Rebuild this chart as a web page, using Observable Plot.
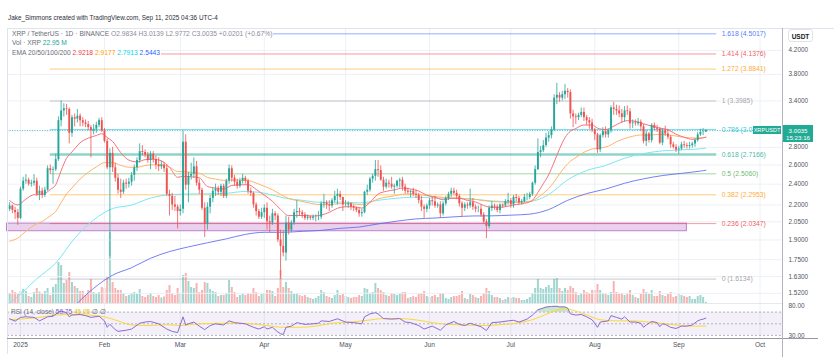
<!DOCTYPE html>
<html><head><meta charset="utf-8">
<script src="https://cdn.jsdelivr.net/npm/d3@7"></script>
<script src="https://cdn.jsdelivr.net/npm/@observablehq/plot@0.6"></script>
<style>
html,body{margin:0;padding:0;background:#fff;}
#wrap{position:relative;width:834px;height:357px;overflow:hidden;font-family:"Liberation Sans",Arial,sans-serif;color:#131722;}
#wrap svg{position:absolute;left:0;}
.t{position:absolute;white-space:nowrap;line-height:1;}
.ln{position:absolute;}
</style></head><body><div id="wrap"></div>
<script>
// ---------- DATA ----------
const firstDate = "2024-12-28";
const firstOpen = 2.16;
// daily closes Dec 28 2024 .. Sep 11 2025
const closes = [
2.19,2.15,2.13,2.08,
2.35,2.43,2.44,2.40,2.41,2.43,2.30,2.33,2.29,2.34,
2.56,2.54,2.55,2.66,3.13,3.26,3.29,3.28,2.97,3.17,
3.15,3.19,3.13,3.10,3.08,3.04,3.00,3.02,3.07,3.13,3.00,
2.87,2.57,2.73,2.57,2.46,2.34,2.32,2.41,2.40,2.42,
2.49,2.57,2.65,2.75,2.74,2.71,2.65,2.72,2.66,2.60,
2.58,2.60,2.56,2.30,2.28,2.20,2.18,2.14,
2.16,2.86,2.39,2.48,2.50,2.58,2.41,2.34,2.17,2.03,
2.18,2.26,2.33,2.35,2.32,2.38,2.28,2.43,2.56,2.46,
2.42,2.38,2.43,2.46,2.43,2.33,2.31,2.20,2.14,2.09,2.13,
2.17,2.05,2.04,2.12,2.10,1.90,1.85,1.80,2.04,1.98,
2.04,2.13,2.14,2.13,2.11,2.08,2.09,2.08,2.09,2.09,
2.09,2.21,2.22,2.20,2.19,2.24,2.28,2.30,2.27,2.20,
2.20,2.21,2.18,2.17,2.15,2.12,2.13,2.32,2.34,2.45,
2.48,2.55,2.54,2.44,2.37,2.41,2.40,2.37,2.38,2.43,
2.44,2.37,2.33,2.32,2.33,2.30,2.29,2.24,2.18,2.16,2.19,
2.24,2.23,2.19,2.20,2.12,2.21,2.26,2.30,2.33,2.31,
2.28,2.21,2.17,2.20,2.19,2.22,2.18,2.16,2.16,2.11,
2.05,2.01,2.17,2.19,2.18,2.15,2.20,2.19,2.23,2.24,
2.20,2.27,2.26,2.22,2.23,2.27,2.27,2.30,2.41,2.55,
2.74,2.76,2.82,2.91,2.94,3.01,3.44,3.48,3.44,3.49,
3.54,3.52,3.22,3.18,3.17,3.20,3.24,3.17,3.13,3.10,3.01,
2.95,2.77,2.94,2.99,2.95,3.00,3.30,3.28,3.26,3.22,
3.17,3.26,3.25,3.09,3.10,3.09,3.11,3.05,2.87,2.96,
2.88,3.07,3.03,3.02,2.85,3.00,2.96,2.92,2.83,2.80,2.77,
2.78,2.83,2.82,2.81,2.82,2.84,2.88,2.95,2.98,2.9834,3.0035];
const highs = [
2.22,2.20,2.18,2.16,
2.37,2.47,2.50,2.46,2.44,2.50,2.46,2.38,2.36,2.37,
2.59,2.60,2.58,2.72,3.18,3.40,3.36,3.35,3.30,3.20,
3.22,3.28,3.22,3.17,3.14,3.12,3.07,3.08,3.11,3.16,3.17,
3.03,2.90,2.78,2.80,2.62,2.50,2.45,2.44,2.45,2.46,
2.52,2.60,2.68,2.84,2.82,2.77,2.74,2.75,2.75,2.70,
2.68,2.64,2.63,2.60,2.34,2.31,2.28,2.20,
2.20,3.00,2.95,2.52,2.62,2.68,2.64,2.45,2.36,2.22,
2.22,2.29,2.36,2.40,2.38,2.40,2.40,2.45,2.60,2.59,
2.49,2.45,2.46,2.50,2.48,2.45,2.36,2.32,2.22,2.16,2.17,
2.20,2.22,2.10,2.16,2.14,2.12,1.98,1.97,2.10,2.09,
2.06,2.16,2.24,2.17,2.15,2.13,2.11,2.10,2.11,2.11,
2.14,2.23,2.30,2.24,2.24,2.26,2.33,2.35,2.33,2.27,
2.24,2.23,2.22,2.20,2.18,2.17,2.16,2.33,2.39,2.47,
2.50,2.65,2.65,2.59,2.47,2.45,2.44,2.47,2.40,2.44,
2.46,2.47,2.40,2.36,2.34,2.36,2.34,2.31,2.28,2.20,2.21,
2.26,2.27,2.28,2.22,2.23,2.23,2.28,2.32,2.36,2.36,
2.34,2.30,2.23,2.22,2.22,2.35,2.26,2.20,2.19,2.20,
2.13,2.07,2.19,2.23,2.21,2.20,2.21,2.21,2.25,2.31,
2.26,2.29,2.30,2.28,2.25,2.30,2.31,2.32,2.42,2.59,
2.90,2.81,2.88,2.97,2.99,3.05,3.49,3.66,3.52,3.54,
3.64,3.58,3.56,3.27,3.22,3.23,3.30,3.30,3.20,3.17,3.15,
3.03,2.97,2.96,3.04,3.05,3.02,3.33,3.38,3.34,3.33,
3.28,3.32,3.33,3.29,3.14,3.14,3.16,3.14,3.08,3.00,
2.98,3.09,3.10,3.07,3.04,3.02,3.06,3.02,2.94,2.86,2.83,
2.81,2.86,2.87,2.85,2.86,2.86,2.90,2.98,3.02,3.03,3.0139];
const lows = [
2.14,2.12,2.07,2.02,
2.07,2.33,2.40,2.38,2.37,2.38,2.28,2.24,2.26,2.27,
2.33,2.50,2.40,2.53,2.64,3.05,3.18,3.20,2.84,2.92,
3.05,3.10,3.05,3.05,3.04,3.00,2.68,2.95,2.97,3.04,2.98,
2.85,2.55,1.77,2.52,2.42,2.30,2.26,2.30,2.35,2.36,
2.38,2.43,2.53,2.62,2.70,2.68,2.62,2.55,2.62,2.55,
2.53,2.55,2.52,2.28,2.10,2.15,2.14,1.99,
2.10,2.12,2.34,2.22,2.44,2.46,2.38,2.30,2.15,1.92,
1.98,2.12,2.22,2.28,2.29,2.28,2.26,2.26,2.40,2.42,
2.38,2.35,2.36,2.40,2.40,2.30,2.28,2.17,2.10,2.07,2.07,
2.08,1.98,1.96,2.02,2.06,1.88,1.6134,1.77,1.74,1.94,
1.96,2.02,2.08,2.10,2.08,2.06,2.06,2.06,2.06,2.05,
2.06,2.07,2.17,2.16,2.14,2.17,2.22,2.20,2.24,2.14,
2.18,2.17,2.15,2.14,2.13,2.09,2.09,2.12,2.29,2.32,
2.41,2.43,2.47,2.43,2.33,2.35,2.36,2.35,2.30,2.36,
2.36,2.33,2.30,2.30,2.27,2.28,2.26,2.21,2.14,2.08,2.13,
2.16,2.19,2.17,2.17,2.08,2.10,2.19,2.24,2.27,2.29,
2.25,2.18,2.09,2.14,2.16,2.17,2.15,2.13,2.13,2.09,
2.03,1.91,1.99,2.14,2.15,2.13,2.12,2.17,2.18,2.20,
2.17,2.17,2.23,2.20,2.20,2.22,2.24,2.25,2.28,2.39,
2.54,2.68,2.74,2.80,2.86,2.90,2.99,3.35,3.38,3.40,
3.42,3.44,3.15,3.04,3.08,3.13,3.17,3.12,3.07,3.02,2.98,
2.88,2.73,2.74,2.91,2.91,2.91,2.97,3.20,3.20,3.17,
3.10,3.11,3.20,3.02,3.03,3.06,3.06,2.99,2.84,2.81,
2.85,2.85,3.00,2.98,2.83,2.82,2.93,2.89,2.79,2.78,2.74,
2.72,2.76,2.79,2.78,2.78,2.79,2.80,2.86,2.93,2.94,2.9772];
// daily volume, millions of XRP
const volumes = [
200,260,220,180,
240,280,240,140,120,220,300,230,180,240,
300,160,320,380,820,760,400,460,620,420,
340,300,240,240,160,260,480,220,180,220,320,
300,520,1420,420,300,260,260,200,140,160,
200,220,180,280,140,120,160,200,140,120,
160,110,130,260,360,200,160,300,
200,560,600,440,320,300,400,220,260,420,
400,280,240,220,140,160,160,200,460,320,
220,120,160,200,160,200,180,300,220,140,180,
200,260,260,240,140,300,660,320,420,300,
240,180,200,160,140,160,120,100,80,100,
140,260,220,140,120,100,160,260,160,180,
140,120,100,120,120,160,140,300,280,200,
220,400,300,260,220,160,140,200,180,160,
200,220,220,100,120,140,120,180,200,240,140,
120,140,160,120,200,200,100,80,120,140,
140,160,240,100,80,180,160,120,100,140,
200,300,240,160,120,120,100,60,80,120,
100,120,100,100,60,60,80,120,200,300,
480,300,280,320,360,300,480,500,300,240,
300,260,340,300,220,160,200,260,220,200,260,
260,380,260,200,180,160,220,440,220,180,
200,160,180,260,160,120,100,180,280,220,
180,260,140,140,240,160,140,180,220,120,140,
180,160,140,120,140,80,80,140,160,120,23];

const ema20Dates = ["2024-12-28","2024-12-31","2025-01-03","2025-01-06","2025-01-09","2025-01-12","2025-01-14","2025-01-16","2025-01-18","2025-01-20","2025-01-23","2025-01-26","2025-01-29","2025-01-31","2025-02-02","2025-02-04","2025-02-07","2025-02-10","2025-02-13","2025-02-16","2025-02-19","2025-02-22","2025-02-25","2025-02-28","2025-03-02","2025-03-05","2025-03-08","2025-03-11","2025-03-14","2025-03-17","2025-03-20","2025-03-23","2025-03-26","2025-03-29","2025-04-01","2025-04-04","2025-04-07","2025-04-10","2025-04-13","2025-04-16","2025-04-19","2025-04-22","2025-04-25","2025-04-28","2025-05-01","2025-05-04","2025-05-07","2025-05-10","2025-05-13","2025-05-16","2025-05-19","2025-05-22","2025-05-25","2025-05-28","2025-05-31","2025-06-03","2025-06-06","2025-06-09","2025-06-12","2025-06-15","2025-06-18","2025-06-21","2025-06-24","2025-06-27","2025-06-30","2025-07-03","2025-07-06","2025-07-09","2025-07-11","2025-07-13","2025-07-15","2025-07-17","2025-07-19","2025-07-21","2025-07-23","2025-07-25","2025-07-28","2025-07-31","2025-08-02","2025-08-05","2025-08-07","2025-08-10","2025-08-13","2025-08-16","2025-08-19","2025-08-22","2025-08-25","2025-08-28","2025-08-31","2025-09-03","2025-09-06","2025-09-09","2025-09-11"];
const ema20 = [2.24,2.20,2.255,2.296,2.298,2.347,2.394,2.540,2.675,2.747,2.853,2.910,2.942,2.964,2.918,2.869,2.739,2.654,2.634,2.659,2.664,2.646,2.575,2.470,2.480,2.475,2.465,2.377,2.362,2.352,2.387,2.393,2.395,2.347,2.292,2.235,2.159,2.104,2.105,2.105,2.100,2.109,2.133,2.170,2.183,2.184,2.171,2.224,2.302,2.329,2.343,2.361,2.352,2.332,2.292,2.273,2.248,2.261,2.262,2.242,2.227,2.195,2.178,2.178,2.189,2.204,2.214,2.244,2.318,2.404,2.498,2.632,2.782,2.915,2.996,3.029,3.074,3.074,3.034,3.015,3.041,3.096,3.131,3.121,3.090,3.060,3.034,3.014,2.958,2.920,2.895,2.907,2.922];

const ema50Dates = ["2024-12-28","2024-12-31","2025-01-03","2025-01-06","2025-01-09","2025-01-12","2025-01-14","2025-01-16","2025-01-18","2025-01-20","2025-01-23","2025-01-26","2025-01-29","2025-02-01","2025-02-04","2025-02-07","2025-02-10","2025-02-13","2025-02-16","2025-02-19","2025-02-22","2025-02-25","2025-02-28","2025-03-02","2025-03-05","2025-03-08","2025-03-11","2025-03-14","2025-03-17","2025-03-20","2025-03-23","2025-03-26","2025-03-29","2025-04-01","2025-04-04","2025-04-07","2025-04-10","2025-04-13","2025-04-16","2025-04-19","2025-04-22","2025-04-25","2025-04-28","2025-05-01","2025-05-04","2025-05-07","2025-05-10","2025-05-13","2025-05-16","2025-05-19","2025-05-22","2025-05-25","2025-05-28","2025-05-31","2025-06-03","2025-06-06","2025-06-09","2025-06-12","2025-06-15","2025-06-18","2025-06-21","2025-06-24","2025-06-27","2025-06-30","2025-07-03","2025-07-06","2025-07-09","2025-07-11","2025-07-13","2025-07-15","2025-07-17","2025-07-19","2025-07-21","2025-07-23","2025-07-25","2025-07-28","2025-07-31","2025-08-03","2025-08-06","2025-08-09","2025-08-12","2025-08-15","2025-08-18","2025-08-21","2025-08-24","2025-08-27","2025-08-30","2025-09-02","2025-09-05","2025-09-08","2025-09-11"];
const ema50 = [1.89,1.916,1.971,2.021,2.053,2.102,2.141,2.222,2.303,2.362,2.452,2.522,2.579,2.626,2.626,2.597,2.576,2.576,2.594,2.603,2.602,2.577,2.531,2.530,2.522,2.513,2.469,2.452,2.438,2.443,2.440,2.436,2.411,2.379,2.344,2.300,2.259,2.242,2.227,2.211,2.202,2.202,2.211,2.212,2.209,2.203,2.222,2.256,2.273,2.286,2.300,2.303,2.300,2.286,2.278,2.270,2.267,2.264,2.258,2.252,2.240,2.232,2.228,2.224,2.223,2.225,2.238,2.269,2.309,2.357,2.424,2.503,2.581,2.642,2.683,2.742,2.780,2.792,2.813,2.866,2.905,2.932,2.949,2.944,2.955,2.953,2.941,2.925,2.913,2.911,2.918];

const ema100Dates = ["2024-12-28","2024-12-31","2025-01-07","2025-01-14","2025-01-21","2025-01-28","2025-02-04","2025-02-11","2025-02-18","2025-02-25","2025-03-04","2025-03-11","2025-03-18","2025-03-25","2025-04-01","2025-04-08","2025-04-15","2025-04-22","2025-04-29","2025-05-06","2025-05-13","2025-05-20","2025-05-27","2025-06-03","2025-06-10","2025-06-17","2025-06-24","2025-07-01","2025-07-08","2025-07-15","2025-07-22","2025-07-29","2025-08-05","2025-08-12","2025-08-19","2025-08-26","2025-09-02","2025-09-09","2025-09-11"];
const ema100 = [1.46,1.499,1.615,1.725,1.914,2.066,2.167,2.199,2.264,2.296,2.303,2.305,2.310,2.328,2.311,2.267,2.243,2.224,2.226,2.219,2.243,2.263,2.273,2.264,2.260,2.254,2.237,2.232,2.234,2.298,2.444,2.541,2.595,2.675,2.728,2.759,2.770,2.783,2.791];

const ema200Dates = ema100Dates;
const ema200 = [1.12,1.15,1.235,1.317,1.442,1.552,1.640,1.692,1.760,1.810,1.846,1.878,1.909,1.945,1.962,1.962,1.970,1.978,1.995,2.006,2.032,2.056,2.075,2.083,2.093,2.101,2.102,2.108,2.117,2.158,2.243,2.307,2.351,2.409,2.454,2.488,2.511,2.535,2.544];

const rsiDates = ["2024-12-28","2024-12-30","2025-01-01","2025-01-03","2025-01-06","2025-01-08","2025-01-11","2025-01-13","2025-01-15","2025-01-16","2025-01-18","2025-01-19","2025-01-20","2025-01-23","2025-01-25","2025-01-27","2025-01-30","2025-02-01","2025-02-02","2025-02-03","2025-02-05","2025-02-06","2025-02-09","2025-02-11","2025-02-14","2025-02-16","2025-02-18","2025-02-21","2025-02-24","2025-02-26","2025-02-28","2025-03-02","2025-03-03","2025-03-04","2025-03-06","2025-03-08","2025-03-10","2025-03-12","2025-03-14","2025-03-17","2025-03-19","2025-03-21","2025-03-23","2025-03-25","2025-03-28","2025-03-30","2025-04-01","2025-04-02","2025-04-04","2025-04-06","2025-04-07","2025-04-08","2025-04-09","2025-04-11","2025-04-13","2025-04-16","2025-04-19","2025-04-21","2025-04-22","2025-04-25","2025-04-28","2025-05-01","2025-05-04","2025-05-07","2025-05-08","2025-05-10","2025-05-12","2025-05-13","2025-05-15","2025-05-18","2025-05-21","2025-05-23","2025-05-25","2025-05-28","2025-05-30","2025-06-02","2025-06-05","2025-06-07","2025-06-10","2025-06-12","2025-06-14","2025-06-16","2025-06-18","2025-06-20","2025-06-22","2025-06-24","2025-06-27","2025-06-30","2025-07-02","2025-07-04","2025-07-07","2025-07-09","2025-07-11","2025-07-13","2025-07-14","2025-07-16","2025-07-18","2025-07-19","2025-07-21","2025-07-22","2025-07-23","2025-07-25","2025-07-27","2025-07-29","2025-07-31","2025-08-02","2025-08-03","2025-08-06","2025-08-07","2025-08-09","2025-08-11","2025-08-12","2025-08-14","2025-08-16","2025-08-18","2025-08-19","2025-08-20","2025-08-22","2025-08-24","2025-08-25","2025-08-26","2025-08-27","2025-08-29","2025-08-31","2025-09-02","2025-09-04","2025-09-06","2025-09-08","2025-09-09","2025-09-10","2025-09-11"];
const rsiValues = [58.6,54.5,61,62,61,55,62,63,70,72,69,62,65,66,64,61,63,55,44,49,40,37,39,41,51,53,54,50,41,37,35,62,48,50,53,46,40,47,50,48,55,52,51,50,44,41,45,41,44,36,33,31.6,44,46,52,49,50,51,55,54,58.6,53,52,50,62,67,69,67,59,58,59,53,52,47,41,46,39,48,54,49,47,51,48,45,38.5,52,53,55,56,53,58,65,74,77,78.6,79.8,80,79,79,77,67,65,66,62,57,44,53,55,64,61,58,62,53,53,51,44,48,54,52,45,50,49,44,42,46,46,48,55,57,58,59.75];

const rsiMaDates = ["2024-12-28","2025-01-06","2025-01-18","2025-01-28","2025-02-01","2025-02-06","2025-02-11","2025-02-17","2025-02-24","2025-03-01","2025-03-08","2025-03-20","2025-03-27","2025-04-02","2025-04-08","2025-04-14","2025-04-20","2025-04-26","2025-05-03","2025-05-09","2025-05-15","2025-05-21","2025-05-28","2025-06-02","2025-06-08","2025-06-14","2025-06-22","2025-06-27","2025-07-03","2025-07-09","2025-07-15","2025-07-21","2025-07-28","2025-08-03","2025-08-09","2025-08-15","2025-08-21","2025-08-27","2025-09-02","2025-09-06","2025-09-11"];
const rsiMaValues = [57,60,66,64.3,62,55,48,47,48.5,47,50,51,50,47,44,44,46,51,53,56,59,59,56,52,49,48,47,48.5,51,57,68,75.7,67,57,55,55,53,50,47,46,46.05];

const fibLevels = ["0","0.236","0.382","0.5","0.618","0.786","1","1.272","1.414","1.618"];
const fibPrices = [1.6134,2.0347,2.2953,2.5060,2.7166,3.0165,3.3985,3.8841,4.1376,4.5017];
// the 0.786 label is cut off by the symbol tag in the reference: only "(3.0" shows
const fibShown = ["1.6134","2.0347","2.2953","2.5060","2.7166","3.0","3.3985","3.8841","4.1376","4.5017"];
const fibColors = ["#8f929b","#f23645","#ff9800","#4caf50","#22ab94","#00bcd4","#8f929b","#ff9800","#f23645","#2962ff"];
const fibWidths = [1,1,1,1,2.4,1,1,1,1,1];
const fibFrom = "2025-01-12", fibTo = "2025-09-15";
const zoneFrom = "2024-12-27", zoneTo = "2025-09-04", zoneTop = 2.0347, zoneBottom = 1.971;

const priceTicks = [4.2,3.8,3.4,2.8,2.6,2.4,2.2,2.05,1.9,1.75,1.63,1.52];
const gridPrices = [4.2,3.8,3.4,3.0,2.8,2.6,2.4,2.2,2.05,1.9,1.75,1.63,1.52];
const monthDates = ["2025-01-01","2025-02-01","2025-03-01","2025-04-01","2025-05-01","2025-06-01","2025-07-01","2025-08-01","2025-09-01","2025-10-01"];
const monthLabels = ["2025","Feb","Mar","Apr","May","Jun","Jul","Aug","Sep","Oct"];
const rsiBands = [70,50,30];
const rsiTicks = [80,30];
const lastPrice = 3.0035;

// ---------- BUILD ----------
const DAY = 864e5;
const parse = s => new Date(s + "T00:00:00Z");
const t0 = parse(firstDate).getTime();
const jan1 = Date.UTC(2025,0,1);
const xDomain = [new Date(jan1 - 4.8*DAY), new Date(jan1 + 281.3*DAY)];
const UP = "#26a69a", DOWN = "#ef5350";
const candles = closes.map((c,i) => {
  const o = i === 0 ? firstOpen : closes[i-1];
  return {date: new Date(t0 + i*DAY), o, h: highs[i], l: lows[i], c, v: volumes[i], up: c >= o};
});
const series = (ds, vs) => ds.map((d,i) => ({date: parse(d), v: vs[i]}));
const fibs = fibLevels.map((l,i) => ({label: `${l} (${fibShown[i]}` + (fibShown[i].length > 3 ? ")" : ""), price: fibPrices[i], color: fibColors[i], w: fibWidths[i]}));
const months = monthDates.map((d,i) => ({date: parse(d), label: monthLabels[i]}));
const FONT = {fontFamily: "'Liberation Sans', Arial, sans-serif", background: "transparent", overflow: "visible"};
const common = {width: 834, marginLeft: 7, marginRight: 52, marginTop: 0, color: {type: "identity"},
  x: {type: "utc", domain: xDomain, axis: null}, style: FONT};

const wrap = document.getElementById("wrap");

// volume (behind)
const volPlot = Plot.plot({...common, height: 80, marginBottom: 0,
  y: {domain: [0, 1600], axis: null},
  marks: [
    Plot.ruleX(candles, {x: "date", y1: 0, y2: "v", stroke: d => d.up ? "#9fd6d0" : "#f7b3b1", strokeWidth: 2})
  ]});
volPlot.style.top = "223px";

const main = Plot.plot({...common, height: 274, marginBottom: 0,
  y: {type: "log", domain: [1.4566, 4.584], axis: null},
  marks: [
    Plot.ruleX(months, {x: "date", stroke: "#edf0f5"}),
    Plot.ruleY(gridPrices, {stroke: "#edf0f5"}),
    Plot.rect([0], {x1: () => parse(zoneFrom), x2: () => parse(zoneTo), y1: () => zoneBottom, y2: () => zoneTop,
      fill: "#e3c3ea", fillOpacity: 0.75, stroke: "#bf7fd0", strokeWidth: 1}),
    Plot.ruleY(fibs, {y: "price", x1: () => parse(fibFrom), x2: () => parse(fibTo), stroke: "color", strokeOpacity: 0.5, strokeWidth: "w"}),
    Plot.text(fibs, {y: "price", x: () => parse(fibTo), dx: 5, text: "label", textAnchor: "start", fill: "color", fillOpacity: 0.85, fontSize: 6.8}),
    Plot.ruleY([lastPrice], {stroke: "#3fb8c9", strokeDasharray: "1,1.5", strokeOpacity: 0.8}),
    Plot.line(series(ema200Dates, ema200), {x: "date", y: "v", stroke: "#5c6bf0", strokeOpacity: 0.85, strokeWidth: 1, curve: "monotone-x", clip: true}),
    Plot.line(series(ema100Dates, ema100), {x: "date", y: "v", stroke: "#7ae8f5", strokeWidth: 1, curve: "monotone-x", clip: true}),
    Plot.line(series(ema50Dates, ema50), {x: "date", y: "v", stroke: "#ffb46a", strokeWidth: 1, curve: "monotone-x", clip: true}),
    Plot.line(series(ema20Dates, ema20), {x: "date", y: "v", stroke: "#f5737c", strokeWidth: 1, curve: "monotone-x", clip: true}),
    Plot.ruleX(candles, {x: "date", y1: "l", y2: "h", stroke: d => d.up ? UP : DOWN, strokeWidth: 0.8, clip: true}),
    Plot.ruleX(candles, {x: "date", y1: "o", y2: "c", stroke: d => d.up ? UP : DOWN, strokeWidth: 1.9, clip: true}),
    Plot.text(priceTicks, {y: d => d, text: d => d.toFixed(4), frameAnchor: "right", dx: 6, textAnchor: "start", fontSize: 6.4, fill: "#50535e"})
  ]});
main.style.top = "29px";

const rsiPlot = Plot.plot({...common, height: 53, marginBottom: 19,
  y: {domain: [24.8, 83.1], axis: null},
  marks: [
    Plot.ruleX(months, {x: "date", stroke: "#edf0f5"}),
    Plot.rect([0], {x1: () => xDomain[0], x2: () => xDomain[1], y1: () => 30, y2: () => 70, fill: "#7e57c2", fillOpacity: 0.09}),
    Plot.ruleY(rsiBands, {stroke: "#9598a1", strokeDasharray: "2,2", strokeOpacity: 0.7}),
    Plot.areaY(series(rsiDates, rsiValues).filter(d => d.date >= parse("2025-07-10") && d.date <= parse("2025-07-23")),
      {x: "date", y1: 70, y2: d => Math.max(70, d.v), fill: "#66bb6a", fillOpacity: 0.35}),
    Plot.line(series(rsiMaDates, rsiMaValues), {x: "date", y: "v", stroke: "#fdd835", strokeWidth: 1, curve: "monotone-x"}),
    Plot.line(series(rsiDates, rsiValues), {x: "date", y: "v", stroke: "#8e6bd0", strokeWidth: 1}),
    Plot.text(rsiTicks, {y: d => d, text: d => d.toFixed(2), frameAnchor: "right", dx: 6, textAnchor: "start", fontSize: 6.4, fill: "#50535e"}),
    Plot.text(months, {x: "date", text: "label", frameAnchor: "bottom", dy: 8, fontSize: 6.6, fill: "#50535e",
      fontWeight: d => d.label === "2025" ? "bold" : "normal"})
  ]});
rsiPlot.style.top = "304px";

wrap.append(volPlot, main, rsiPlot);

// frame lines
function line(x, y, w, h, c) { const d = document.createElement("div"); d.className = "ln";
  Object.assign(d.style, {left: x+"px", top: y+"px", width: w+"px", height: h+"px", background: c}); wrap.append(d); }
line(7, 28, 827, 1, "#e0e3eb");
line(7, 28, 1, 326, "#e0e3eb");
line(7, 303, 775, 1, "#e6e8ee");
line(7, 338, 811, 1, "#9598a1");
line(782, 28, 1, 329, "#b2b5be");

// texts
function text(x, y, html, style = {}) { const d = document.createElement("div"); d.className = "t";
  d.innerHTML = html; Object.assign(d.style, {left: x+"px", top: y+"px", fontSize: "6.7px"}, style); wrap.append(d); return d; }
const g = s => `<span style="color:#6a6d78">${s}</span>`;
const c = (s, col) => `<span style="color:${col}">${s}</span>`;
text(8, 15, "Jake_Simmons created with TradingView.com, Sep 11, 2025 04:36 UTC-4", {color: "#2a2e39", fontSize: "6.4px"});
text(11, 30.5, g("XRP / TetherUS · 1D · BINANCE") + " " + c("O2.9834 H3.0139 L2.9772 C3.0035 +0.0201 (+0.67%)", "#8a8d97"), {background: "#fff", padding: "0 1px"});
text(11, 40, g("Vol · XRP") + " " + c("22.95 M", "#26a69a"), {background: "#fff", padding: "0 1px"});
text(11, 49.5, g("EMA 20/50/100/200") + " " + c("2.9218", "#f23645") + " " + c("2.9177", "#ff9800") + " " + c("2.7913", "#00d2e8") + " " + c("2.5443", "#2962ff"), {background: "#fff", padding: "0 1px"});
text(11, 308.5, g("RSI (14, close)") + " " + c("59.75", "#7e57c2") + " " + c("46.05", "#e6c200") + " " + g("∅ ∅"), {fontSize: "6.5px"});

// USDT box
text(788, 29, "USDT", {width: "25px", height: "13px", lineHeight: "13px", textAlign: "center", border: "1px solid #e0e3eb", borderRadius: "3px", fontSize: "6.5px", fontWeight: "bold", color: "#131722", background: "#fff", boxSizing: "border-box"});

// last price tags
const yLast = 29 + main.scale("y").apply(lastPrice);
text(783, yLast - 5, "3.0035<br>15:23:16", {width: "30px", height: "17px", background: "#22ab94", color: "#fff", fontSize: "6.2px", lineHeight: "7.4px", textAlign: "center", paddingTop: "1.5px", boxSizing: "border-box"});
text(753, yLast - 4, "XRPUSDT", {width: "28px", height: "8px", background: "#22ab94", color: "#fff", fontSize: "5.6px", lineHeight: "8px", textAlign: "center"});
</script>
</body></html>
